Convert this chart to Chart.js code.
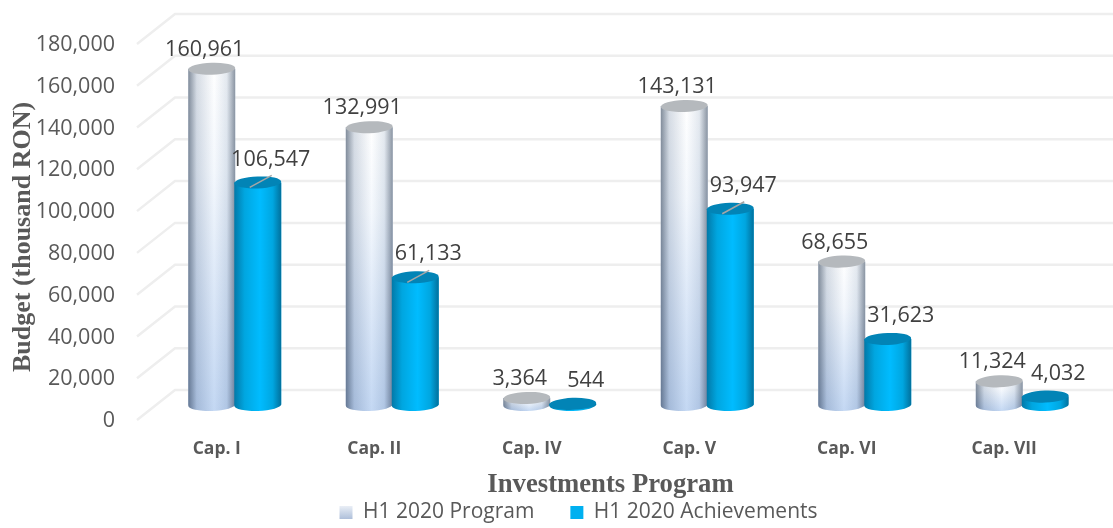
<!DOCTYPE html>
<html>
<head>
<meta charset="utf-8">
<title>Investments Program</title>
<script src="https://cdn.jsdelivr.net/npm/chart.js@4"></script>
<style>
  html, body { margin: 0; background: #fff; }
  #wrap { width: 1113px; height: 528px; }
</style>
</head>
<body>
<div id="wrap"><canvas id="chart" width="1113" height="528"></canvas></div>
<script>
const categories = ['Cap. I', 'Cap. II', 'Cap. IV', 'Cap. V', 'Cap. VI', 'Cap. VII']
const programValues = [160961, 132991, 3364, 143131, 68655, 11324]
const achievementValues = [106547, 61133, 544, 93947, 31623, 4032]
const yTicks = [0, 20000, 40000, 60000, 80000, 100000, 120000, 140000, 160000, 180000]
const leaderCaps = ['Cap. I', 'Cap. II', 'Cap. V']

const fmt = v => v.toLocaleString('en-US')

function bodyGradient(ctx, el, index) {
  const left = el.x - el.width / 2
  const g = ctx.createLinearGradient(left, 0, left + el.width, 0)
  if (index === 0) {
    g.addColorStop(0, '#828d9b')
    g.addColorStop(0.18, '#d6dce4')
    g.addColorStop(0.55, '#ffffff')
    g.addColorStop(0.82, '#e4e9ef')
    g.addColorStop(1, '#8b95a2')
  } else {
    g.addColorStop(0, '#0279a8')
    g.addColorStop(0.22, '#00a6e0')
    g.addColorStop(0.55, '#00bcff')
    g.addColorStop(0.82, '#00a6e0')
    g.addColorStop(1, '#01709c')
  }
  return g
}

function drawEnds(ctx, el, index) {
  const rx = el.width / 2
  const ry = 6
  const tilt = -0.035
  const left = el.x - rx
  ctx.save()

  // rounded underside, same surface as the bar
  const outline = () => {
    ctx.beginPath()
    ctx.moveTo(left, el.y)
    ctx.lineTo(left, el.base)
    ctx.ellipse(el.x, el.base, rx, ry, tilt, Math.PI, 0, true)
    ctx.lineTo(left + el.width, el.y)
    ctx.closePath()
  }
  outline()
  ctx.fillStyle = bodyGradient(ctx, el, index)
  ctx.fill()

  if (index === 0) {
    const tint = ctx.createLinearGradient(0, el.y, 0, el.base + ry)
    tint.addColorStop(0, '#ffffff')
    tint.addColorStop(0.3, '#f4f8fd')
    tint.addColorStop(1, '#c4d8f3')
    outline()
    ctx.globalCompositeOperation = 'multiply'
    ctx.fillStyle = tint
    ctx.fill()
    ctx.globalCompositeOperation = 'source-over'
  }

  ctx.beginPath()
  ctx.ellipse(el.x, el.y, rx, ry, tilt, 0, Math.PI * 2)
  ctx.fillStyle = index === 0 ? '#b5b9bd' : '#0284b6'
  ctx.fill()
  ctx.restore()
}

const cylinders = {
  id: 'cylinders',
  beforeLayout(chart) {
    // legend gap is wide, but the box itself stays one row high
    const lg = chart.legend
    const fit = lg.fit
    lg.fit = function () {
      fit.call(this)
      this.height = 30
    }
  },
  afterLayout(chart) {
    const { x, y } = chart.scales
    // axis titles in the original sit off the plot centre
    y.bottom += 40
    x.right -= 36
    const lg = chart.legend
    lg.left += 28
    lg.right += 28
    lg.top = 512 - 10 - lg.options.labels.padding
  },
  beforeDatasetsDraw(chart) {
    const { ctx } = chart
    const y = chart.scales.y
    ctx.save()
    ctx.strokeStyle = '#eeeeee'
    ctx.lineWidth = 2.5
    yTicks.forEach(t => {
      const py = y.getPixelForValue(t)
      ctx.beginPath()
      ctx.moveTo(137, py + 15)
      ctx.lineTo(175, py - 15)
      ctx.lineTo(1113, py - 15)
      ctx.stroke()
    })
    ctx.restore()
  },
  afterDatasetsDraw(chart) {
    const { ctx } = chart
    const metas = [chart.getDatasetMeta(0), chart.getDatasetMeta(1)]
    metas.forEach((meta, index) => {
      meta.data.forEach(el => drawEnds(ctx, el, index))
    })

    // leader lines
    ctx.save()
    ctx.strokeStyle = '#a6a6a6'
    ctx.lineWidth = 1.5
    metas[1].data.forEach((el, i) => {
      if (!leaderCaps.includes(categories[i])) return
      ctx.beginPath()
      ctx.moveTo(el.x - 8, el.y + 5)
      ctx.lineTo(el.x + 14, el.y - 7)
      ctx.stroke()
    })

    // value labels
    ctx.font = '21.5px "Open Sans"'
    ctx.fillStyle = '#404040'
    ctx.textAlign = 'center'
    ctx.textBaseline = 'middle'
    metas[0].data.forEach((el, i) => {
      ctx.fillText(fmt(programValues[i]), el.x - 7, el.y - 19)
    })
    metas[1].data.forEach((el, i) => {
      ctx.fillText(fmt(achievementValues[i]), el.x + 13, el.y - 23)
    })
    ctx.restore()
  }
}

const canvas = document.getElementById('chart')

new Chart(canvas, {
  type: 'bar',
  data: {
    labels: categories,
    datasets: [
      {
        label: 'H1 2020 Program',
        data: programValues,
        backgroundColor: '#d5dfee',
        categoryPercentage: 0.584,
        barPercentage: 1.02
      },
      {
        label: 'H1 2020 Achievements',
        data: achievementValues,
        backgroundColor: '#00b0f0',
        categoryPercentage: 0.584,
        barPercentage: 1.02
      }
    ]
  },
  options: {
    responsive: false,
    animation: false,
    layout: { padding: { top: 29, right: 12, left: 0, bottom: 0 } },
    plugins: {
      tooltip: { enabled: false },
      legend: {
        position: 'bottom',
        labels: {
          boxWidth: 13,
          boxHeight: 13,
          padding: 36,
          color: '#595959',
          font: { family: '"Open Sans"', size: 21 },
          generateLabels(chart) {
            const grad = chart.ctx.createLinearGradient(0, 505, 0, 519)
            grad.addColorStop(0, '#eef2f8')
            grad.addColorStop(1, '#aebfda')
            return chart.data.datasets.map((ds, i) => ({
              text: ds.label,
              fillStyle: i === 0 ? grad : ds.backgroundColor,
              strokeStyle: 'rgba(0,0,0,0)',
              lineWidth: 0,
              fontColor: '#595959',
              datasetIndex: i
            }))
          }
        }
      }
    },
    scales: {
      x: {
        grid: { display: false },
        border: { display: false },
        afterFit(scale) { scale.height = 93 },
        ticks: {
          color: '#595959',
          font: { family: '"Open Sans"', size: 17.5, weight: 'bold' },
          padding: 26,
          labelOffset: -18,
          maxRotation: 0,
          autoSkip: false
        },
        title: {
          display: true,
          text: 'Investments Program',
          color: '#595959',
          font: { family: '"Liberation Serif"', size: 26.7, weight: 'bold' },
          padding: { top: 0, bottom: -3 }
        }
      },
      y: {
        min: 0,
        max: 180000,
        grid: { display: false },
        border: { display: false },
        afterFit(scale) {
          scale.width = 156
          scale.paddingTop = 0
          scale.paddingBottom = 0
        },
        afterBuildTicks(scale) { scale.ticks = yTicks.map(value => ({ value })) },
        ticks: {
          color: '#595959',
          font: { family: '"Open Sans"', size: 21.5 },
          padding: 33,
          labelOffset: 16,
          autoSkip: false,
          callback: value => fmt(value)
        },
        title: {
          display: true,
          text: 'Budget (thousand RON)',
          color: '#595959',
          font: { family: '"Liberation Serif"', size: 26, weight: 'bold' },
          padding: { top: 8, bottom: 0 }
        }
      }
    }
  },
  plugins: [cylinders]
})
</script>
</body>
</html>
